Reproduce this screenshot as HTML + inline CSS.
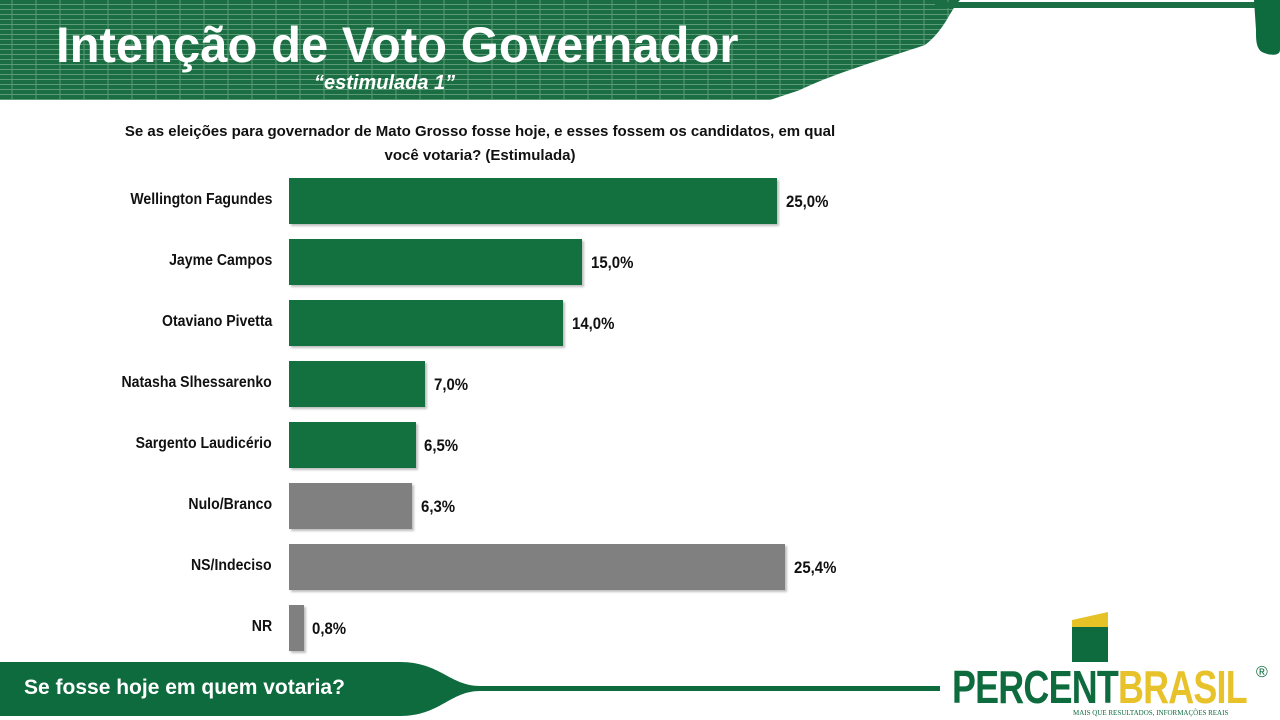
<!DOCTYPE html>
<html><head><meta charset="utf-8"><style>
body{margin:0;width:1280px;height:720px;background:#fff;position:relative;overflow:hidden;font-family:"Liberation Sans",sans-serif}
.lbl{position:absolute;right:1008px;font-weight:bold;font-size:16px;color:#111;transform:scaleX(.88);transform-origin:right center;white-space:nowrap}
.bar{position:absolute;left:289px;height:46px;box-shadow:2px 2px 2px rgba(0,0,0,.25)}
.val{position:absolute;font-weight:bold;font-size:17px;color:#111;transform:scaleX(.88);transform-origin:left center}
</style></head><body>
<svg width="1280" height="720" style="position:absolute;left:0;top:0">
<defs><pattern id="p" width="24" height="10" patternUnits="userSpaceOnUse">
<rect width="24" height="10" fill="#1b6e43"/><path d="M0 9.5H24M12 0V10M0 4.5H24" stroke="#5c9a76" stroke-width="1"/></pattern></defs>
<path d="M0 0H960C950 10 945 30 925 45C880 60 830 75 800 90L770 100H0Z" fill="url(#p)"/>
<path d="M935 2H1258V8H935Z" fill="#1b6e43"/>
<path d="M1254 0H1280V50C1280 56 1270 56 1262 52C1256 48 1256 40 1256 30Z" fill="#0d6b3e"/>
<path d="M0 662H400C440 662 450 686 480 686H940V691H480C450 691 440 716 400 716H0Z" fill="#0d6b3e"/>
<path d="M1072 620L1108 612V645H1072Z" fill="#e6c227"/>
<path d="M1072 627H1108V662H1072Z" fill="#0d6b3e"/>
</svg>
<div style="position:absolute;left:56px;top:16px;font-size:50px;font-weight:bold;color:#fff;transform:scaleX(.98);transform-origin:left;white-space:nowrap">Intenção de Voto Governador</div>
<div style="position:absolute;left:314px;top:72px;font-size:20px;font-weight:bold;font-style:italic;color:#fff">“estimulada 1”</div>
<div style="position:absolute;left:100px;top:120px;width:760px;text-align:center;font-size:15px;font-weight:bold;color:#111;line-height:24px">Se as eleições para governador de Mato Grosso fosse hoje, e esses fossem os candidatos, em qual<br>você votaria? (Estimulada)</div>

<div class="lbl" style="top:191px">Wellington Fagundes</div>
<div class="bar" style="top:178px;width:488px;background:#13703f"></div><div class="val" style="left:786px;top:192px">25,0%</div>
<div class="lbl" style="top:252px">Jayme Campos</div>
<div class="bar" style="top:239px;width:293px;background:#13703f"></div><div class="val" style="left:591px;top:253px">15,0%</div>
<div class="lbl" style="top:313px">Otaviano Pivetta</div>
<div class="bar" style="top:300px;width:274px;background:#13703f"></div><div class="val" style="left:572px;top:314px">14,0%</div>
<div class="lbl" style="top:374px">Natasha Slhessarenko</div>
<div class="bar" style="top:361px;width:136px;background:#13703f"></div><div class="val" style="left:434px;top:375px">7,0%</div>
<div class="lbl" style="top:435px">Sargento Laudicério</div>
<div class="bar" style="top:422px;width:127px;background:#13703f"></div><div class="val" style="left:424px;top:436px">6,5%</div>
<div class="lbl" style="top:496px">Nulo/Branco</div>
<div class="bar" style="top:483px;width:123px;background:#808080"></div><div class="val" style="left:421px;top:497px">6,3%</div>
<div class="lbl" style="top:557px">NS/Indeciso</div>
<div class="bar" style="top:544px;width:496px;background:#808080"></div><div class="val" style="left:794px;top:558px">25,4%</div>
<div class="lbl" style="top:618px">NR</div>
<div class="bar" style="top:605px;width:15px;background:#808080"></div><div class="val" style="left:312px;top:619px">0,8%</div>

<div style="position:absolute;left:24px;top:676px;font-size:21px;font-weight:bold;color:#fff">Se fosse hoje em quem votaria?</div>
<div style="position:absolute;left:952px;top:660px;font-size:46px;font-weight:bold;transform:scaleX(.78);transform-origin:left;white-space:nowrap;letter-spacing:-1px"><span style="color:#0d6b3e">PERCENT</span><span style="color:#e8c22a">BRASIL</span></div>
<div style="position:absolute;left:1256px;top:664px;font-size:16px;color:#0d6b3e">®</div>
<div style="position:absolute;left:1073px;top:709px;font-size:7px;color:#0d6b3e;font-family:'Liberation Serif',serif">MAIS QUE RESULTADOS, INFORMAÇÕES REAIS</div>
</body></html>
